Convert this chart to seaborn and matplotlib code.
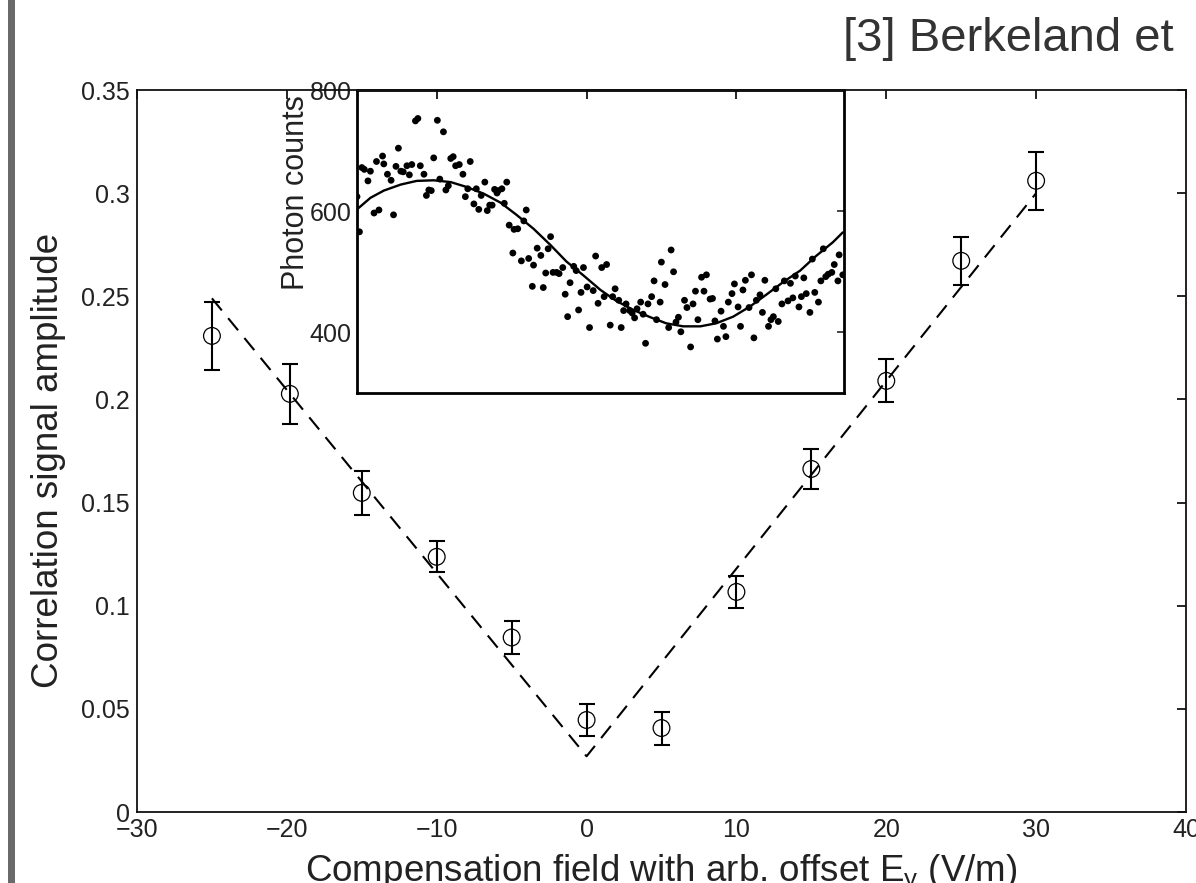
import numpy as np
import pandas as pd
import matplotlib
matplotlib.use("Agg")
import matplotlib.pyplot as plt
from matplotlib.patches import Rectangle
import seaborn as sns

# ---------------- main data ----------------
field = [-25, -19.8, -15, -10, -5, 0, 5, 10, 15, 20, 25, 30]
amplitude = [0.2308, 0.2027, 0.1547, 0.1237, 0.0846, 0.0446, 0.0407, 0.1067,
             0.1663, 0.2090, 0.2672, 0.3060]
amp_err = [0.0165, 0.0147, 0.0107, 0.0075, 0.0078, 0.0078, 0.0080, 0.0078,
           0.0095, 0.0104, 0.0117, 0.0140]

fit_field = [-25, 0, 30]
fit_amp = [0.249, 0.027, 0.300]

x_ticks = [-30, -20, -10, 0, 10, 20, 30, 40]
y_ticks = [0, 0.05, 0.1, 0.15, 0.2, 0.25, 0.3, 0.35]

# ---------------- inset data ----------------
inset_x = [0.00, 0.02, 0.04, 0.06, 0.09, 0.11, 0.14, 0.16, 0.18, 0.21, 0.22, 0.25,
           0.28, 0.30, 0.32, 0.34, 0.36, 0.38, 0.41, 0.43, 0.45, 0.48, 0.50, 0.52,
           0.55, 0.57, 0.59, 0.61, 0.63, 0.66, 0.68, 0.71, 0.73, 0.75, 0.77, 0.79,
           0.81, 0.84, 0.87, 0.89, 0.91, 0.93, 0.96, 0.98, 1.00, 1.02, 1.05, 1.07,
           1.09, 1.11, 1.13, 1.15, 1.16, 1.19, 1.21, 1.23, 1.25, 1.28, 1.29, 1.32,
           1.35, 1.37, 1.39, 1.41, 1.44, 1.45, 1.48, 1.51, 1.53, 1.55, 1.57, 1.59,
           1.61, 1.64, 1.66, 1.69, 1.71, 1.73, 1.75, 1.78, 1.80, 1.82, 1.84, 1.86,
           1.89, 1.91, 1.94, 1.96, 1.98, 2.01, 2.03, 2.05, 2.08, 2.10, 2.12, 2.15,
           2.17, 2.19, 2.21, 2.24, 2.26, 2.28, 2.30, 2.33, 2.35, 2.37, 2.39, 2.42,
           2.44, 2.46, 2.49, 2.50, 2.53, 2.56, 2.58, 2.60, 2.62, 2.64, 2.66, 2.69,
           2.71, 2.74, 2.76, 2.78, 2.80, 2.83, 2.85, 2.87, 2.90, 2.92, 2.94, 2.96,
           2.99, 3.01, 3.03, 3.05, 3.08, 3.10, 3.13, 3.15, 3.17, 3.19, 3.22, 3.24,
           3.26, 3.28, 3.31, 3.33, 3.35, 3.38, 3.40, 3.42, 3.44, 3.46, 3.49, 3.51,
           3.54, 3.56, 3.58, 3.60, 3.63, 3.65, 3.67, 3.69, 3.72, 3.74, 3.76, 3.79,
           3.81, 3.83, 3.85, 3.87, 3.90, 3.92, 3.95, 3.96, 3.99]
inset_counts = [624, 566, 672, 669, 650, 666, 597, 682, 602, 691, 678, 661,
                651, 594, 674, 704, 666, 665, 675, 660, 677, 749, 753, 675,
                661, 626, 635, 634, 688, 750, 653, 731, 635, 642, 687, 690,
                675, 677, 661, 624, 637, 682, 612, 637, 603, 626, 648, 601,
                610, 610, 636, 630, 634, 637, 613, 648, 577, 531, 570, 571,
                518, 584, 602, 522, 476, 511, 539, 527, 474, 498, 538, 558,
                499, 499, 497, 507, 463, 426, 482, 509, 502, 437, 466, 507,
                475, 408, 469, 526, 448, 507, 459, 512, 412, 459, 472, 453,
                408, 436, 447, 436, 432, 424, 439, 450, 430, 382, 447, 459,
                485, 421, 450, 516, 479, 408, 536, 500, 417, 425, 401, 453,
                441, 376, 447, 468, 421, 491, 468, 495, 455, 456, 419, 389,
                435, 410, 393, 450, 464, 480, 442, 410, 470, 486, 441, 495,
                391, 453, 462, 433, 486, 410, 421, 426, 472, 418, 447, 485,
                452, 481, 457, 493, 442, 459, 490, 464, 433, 521, 466, 450,
                485, 538, 492, 496, 499, 512, 485, 528, 495]

curve_x = [0.00, 0.11, 0.22, 0.36, 0.49, 0.63, 0.77, 0.90, 1.04, 1.18, 1.31,
           1.45, 1.59, 1.72, 1.86, 2.00, 2.13, 2.27, 2.41, 2.54, 2.68, 2.82,
           2.95, 3.09, 3.23, 3.36, 3.50, 3.64, 3.77, 3.91, 3.99]
curve_counts = [603, 622, 634, 644, 650, 651, 648, 640, 629, 614, 594,
                571, 544, 517, 494, 470, 452, 437, 425, 415, 410, 410,
                415, 426, 443, 462, 483, 502, 526, 549, 565]

inset_yticks = [400, 600, 800]
inset_xticks = [1, 2, 3]

# ---------------- style ----------------
sns.set_style("white")
plt.rcParams["font.family"] = ["Liberation Sans", "DejaVu Sans"]
plt.rcParams["mathtext.fontset"] = "custom"
plt.rcParams["mathtext.rm"] = "Liberation Sans"
plt.rcParams["mathtext.it"] = "Liberation Sans"
TXT = "#222222"

fig = plt.figure(figsize=(11.96, 8.83), dpi=100)
fig.patch.set_facecolor("white")

# left gray bar
fig.patches.append(Rectangle((8 / 1196, 0), 7 / 1196, 1, transform=fig.transFigure,
                             facecolor="#6a6a6a", edgecolor="none", figure=fig))

ax = fig.add_axes([137 / 1196, 1 - 812 / 883, 1049 / 1196, 722 / 883])
ins = fig.add_axes([357 / 1196, 1 - 393 / 883, 487 / 1196, 303 / 883])
ax.set_zorder(2)
ins.set_zorder(1)
ax.patch.set_visible(False)

# main plot
main_df = pd.DataFrame({"field": field, "amp": amplitude})
fit_df = pd.DataFrame({"field": fit_field, "amp": fit_amp})
sns.lineplot(data=fit_df, x="field", y="amp", ax=ax, color="black", lw=1.5,
             linestyle=(0, (7.5, 4.8)), sort=False)
ax.errorbar(field, amplitude, yerr=amp_err, fmt="none", ecolor="black",
            elinewidth=1.5, capsize=6, capthick=1.5, zorder=3)
sns.scatterplot(data=main_df, x="field", y="amp", ax=ax, marker="o", s=145,
                facecolor="none", edgecolor="black", linewidth=0.9, zorder=4)

ax.set_xlim(-30, 40)
ax.set_ylim(0, 0.35)
ax.set_xticks(x_ticks)
ax.set_yticks(y_ticks)
ax.set_xticklabels([f"{t:d}".replace("-", "\u2212") for t in x_ticks])
ax.set_yticklabels([f"{t:g}" for t in y_ticks])
ax.tick_params(direction="in", length=6.5, width=1.2, top=True, right=True,
               labelsize=18, colors="black", labelcolor=TXT, pad=5)
ax.tick_params(axis="x", pad=4)
for s in ax.spines.values():
    s.set_linewidth(1.3)
    s.set_color("#111111")

ax.set_xlabel("Compensation field with arb. offset E$_{y}$ (V/m)", fontsize=26.5, color=TXT)
ax.set_ylabel("Correlation signal amplitude", fontsize=26.5, color=TXT)
ax.xaxis.set_label_coords(0.5, -0.056)
ax.yaxis.set_label_coords(-0.068, 0.4875)

# inset
sns.scatterplot(x=inset_x, y=inset_counts, ax=ins, color="black", s=24,
                edgecolor="none")
sns.lineplot(x=curve_x, y=curve_counts, ax=ins, color="black", lw=1.7, sort=False)
ins.set_xlim(0, 4)
ins.set_ylim(300, 800)
ins.set_xticks(inset_xticks)
ins.set_xticklabels([])
ins.set_yticks(inset_yticks)
ins.set_yticklabels([str(t) for t in inset_yticks])
ins.tick_params(direction="in", length=5, width=1.2, right=True, top=False,
                labelsize=18, labelcolor=TXT, pad=4)
for s in ins.spines.values():
    s.set_linewidth(2.0)
    s.set_color("black")
ins.set_ylabel("Photon counts", fontsize=22, color=TXT)
ins.yaxis.set_label_coords(-0.094, 0.663)

# header text (as much as the reference shows)
fig.text(843 / 1196, 1 - 51 / 883, "[3] Berkeland et", fontsize=34,
         color="#333333", ha="left", va="baseline")

fig.savefig("out.png", dpi=100)
